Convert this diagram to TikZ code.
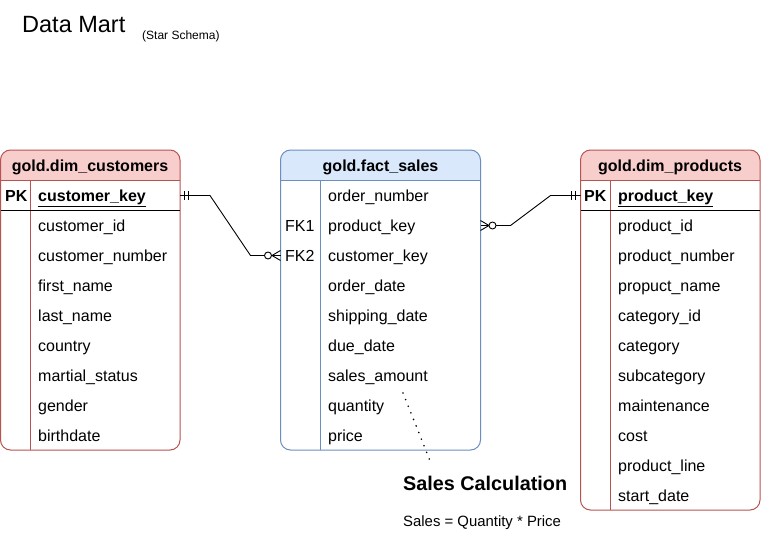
\documentclass[tikz,border=0pt]{standalone}
\usepackage{fontspec}
\setmainfont{Liberation Sans}
\usetikzlibrary{calc}
\definecolor{redS}{HTML}{B85450}
\definecolor{redF}{HTML}{F8CECC}
\definecolor{blueS}{HTML}{6C8EBF}
\definecolor{blueF}{HTML}{DAE8FC}
\tikzset{
  rowtxt/.style={anchor=base west, inner sep=0pt, font=\fontsize{16}{18}\selectfont},
  keytxt/.style={anchor=base west, inner sep=0pt, font=\fontsize{16}{18}\selectfont\bfseries},
  headtxt/.style={anchor=base, inner sep=0pt, font=\fontsize{16}{18}\selectfont\bfseries},
  fktxt/.style={anchor=base west, inner sep=0pt, font=\fontsize{16}{18}\selectfont},
  conn/.style={draw=black, line width=0.9pt},
  bar/.style={draw=black, line width=0.9pt},
  tborder/.style={line width=1pt, rounded corners=10pt},
}
\begin{document}
\begin{tikzpicture}[x=1pt,y=-1pt]
\useasboundingbox[fill=white] (0,0) rectangle (761,533);

% title
\node[anchor=base west, inner sep=0pt, font=\fontsize{23.5}{26}\selectfont] (title) at (22,32) {Data Mart};
\node[anchor=base west, inner sep=0pt, font=\fontsize{12}{13}\selectfont] (subtitle) at (142,39) {(Star Schema)};

% ---------- customers table ----------
\begin{scope}
\clip (-2,140) rectangle (190,180);
\fill[redF, rounded corners=10pt] (0.5,150) rectangle (180,450);
\end{scope}
\draw[tborder, draw=redS] (0.5,150) rectangle (180,450);
\draw[draw=redS, line width=1pt] (0.5,180) -- (180,180);
\draw[draw=redS, line width=1pt] (30,180) -- (30,450);
\draw[draw=black, line width=1pt] (0.5,210) -- (180,210);
\node[headtxt] (custhead) at (90,171) {gold.dim\_customers};
\node[keytxt] (custpkl) at (5,201) {PK};
\node[keytxt] (custpk) at (38,201) {\underline{customer\_key}};
\foreach \t [count=\i] in {customer\_id,customer\_number,first\_name,last\_name,country,martial\_status,gender,birthdate}{
  \node[rowtxt] (cust\i) at (38,201+30*\i) {\t};
}

% ---------- fact table ----------
\begin{scope}
\clip (270,140) rectangle (490,180);
\fill[blueF, rounded corners=10pt] (280.5,150) rectangle (480.5,450);
\end{scope}
\draw[tborder, draw=blueS] (280.5,150) rectangle (480.5,450);
\draw[draw=blueS, line width=1pt] (280.5,180) -- (480.5,180);
\draw[draw=blueS, line width=1pt] (320.5,180) -- (320.5,450);
\node[headtxt] (facthead) at (380.5,171) {gold.fact\_sales};
\node[fktxt] (fk1) at (285,231) {FK1};
\node[fktxt] (fk2) at (285,261) {FK2};
\foreach \t [count=\i] in {order\_number,product\_key,customer\_key,order\_date,shipping\_date,due\_date,sales\_amount,quantity,price}{
  \node[rowtxt] (fact\i) at (328,171+30*\i) {\t};
}

% ---------- products table ----------
\begin{scope}
\clip (570,140) rectangle (770,180);
\fill[redF, rounded corners=10pt] (580.5,150) rectangle (760,510);
\end{scope}
\draw[tborder, draw=redS] (580.5,150) rectangle (760,510);
\draw[draw=redS, line width=1pt] (580.5,180) -- (760,180);
\draw[draw=redS, line width=1pt] (610.5,180) -- (610.5,510);
\draw[draw=black, line width=1pt] (580.5,210) -- (760,210);
\node[headtxt] (prodhead) at (670,171) {gold.dim\_products};
\node[keytxt] (prodpkl) at (584,201) {PK};
\node[keytxt] (prodpk) at (618,201) {\underline{product\_key}};
\foreach \t [count=\i] in {product\_id,product\_number,propuct\_name,category\_id,category,subcategory,maintenance,cost,product\_line,start\_date}{
  \node[rowtxt] (prod\i) at (618,201+30*\i) {\t};
}

% ---------- connector endpoints ----------
\coordinate (custEnd) at (180,195.5);
\coordinate (factL) at (280.5,255.5);
\coordinate (factR) at (480.5,225.5);
\coordinate (prodEnd) at (580.5,195.5);
\coordinate (circL) at (268,255.5);
\coordinate (circR) at (492.5,225.5);

% customers -> fact
\draw[conn] (custEnd) -- ++(30,0) -- ($(factL)+(-30,0)$) -- ($(circL)+(-3.5,0)$);
\draw[bar] ($(custEnd)+(4,-4.5)$) -- ++(0,9);
\draw[bar] ($(custEnd)+(8,-4.5)$) -- ++(0,9);
\draw[conn] ($(factL)+(-8.5,0)$) -- ($(factL)+(0,-5)$);
\draw[conn] ($(factL)+(-8.5,0)$) -- ($(factL)+(0,5)$);
\draw[conn] ($(circL)+(3.5,0)$) -- (factL);
\draw[conn, fill=white] (circL) circle (3.5);

% fact -> products
\draw[conn] ($(circR)+(3.5,0)$) -- ($(factR)+(30,0)$) -- ($(prodEnd)+(-30,0)$) -- (prodEnd);
\draw[bar] ($(prodEnd)+(-9,-4.5)$) -- ++(0,9);
\draw[bar] ($(prodEnd)+(-5.5,-4.5)$) -- ++(0,9);
\draw[conn] ($(factR)+(8.5,0)$) -- ($(factR)+(0,-5)$);
\draw[conn] ($(factR)+(8.5,0)$) -- ($(factR)+(0,5)$);
\draw[conn] ($(circR)+(-3.5,0)$) -- (factR);
\draw[conn, fill=white] (circR) circle (3.5);

% sales calculation note
\coordinate (dotA) at (403,393);
\node[anchor=base west, inner sep=0pt, font=\fontsize{19.8}{22}\selectfont\bfseries] (calc) at (403,490) {Sales Calculation};
\node[anchor=base west, inner sep=0pt, font=\fontsize{14.9}{17}\selectfont] (formula) at (403,526) {Sales = Quantity * Price};
\draw[line width=1.8pt, line cap=round, dash pattern=on 0pt off 7.1pt] (dotA) -- (430.5,462);
\end{tikzpicture}
\end{document}
